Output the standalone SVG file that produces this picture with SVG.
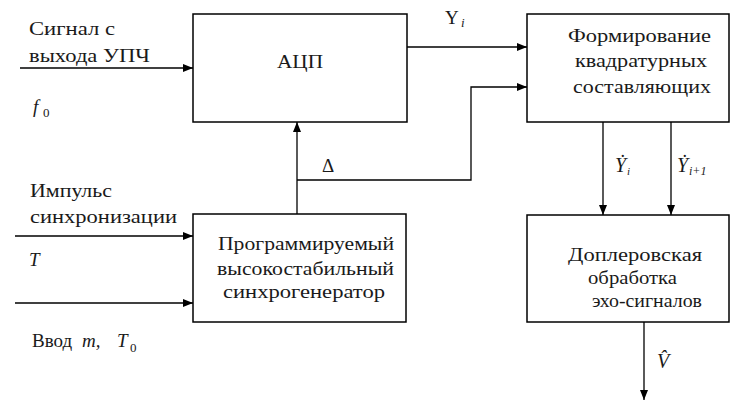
<svg xmlns="http://www.w3.org/2000/svg" width="731" height="400" viewBox="0 0 731 400">
<style>
.box{fill:#fff;stroke:#000;stroke-width:1.5}
.ln{fill:none;stroke:#000;stroke-width:1.3}
.t{font-family:'Times New Roman',Tinos,'Noto Serif','DejaVu Serif','Liberation Serif',serif;font-size:19px;fill:#1a1a1a}
.it{font-style:italic}
.sub{font-size:13px}
</style>
<defs>
<marker id="ar" viewBox="0 0 10 8" refX="10" refY="4" markerWidth="10" markerHeight="8" markerUnits="userSpaceOnUse" orient="auto">
<path d="M0,0 L10,4 L0,8 Z" fill="#000"/>
</marker>
</defs>
<rect width="731" height="400" fill="#fff"/>
<g id="connectors">
<line class="ln" x1="20" y1="68" x2="193" y2="68" marker-end="url(#ar)"/>
<line class="ln" x1="407" y1="47" x2="527" y2="47" marker-end="url(#ar)"/>
<line class="ln" x1="297" y1="214" x2="297" y2="122" marker-end="url(#ar)"/>
<polyline class="ln" points="297,180 471,180 471,87 527,87" marker-end="url(#ar)"/>
<line class="ln" x1="15" y1="236" x2="193" y2="236" marker-end="url(#ar)"/>
<line class="ln" x1="15" y1="303" x2="193" y2="303" marker-end="url(#ar)"/>
<line class="ln" x1="603" y1="122" x2="603" y2="215" marker-end="url(#ar)"/>
<line class="ln" x1="671" y1="122" x2="671" y2="215" marker-end="url(#ar)"/>
<line class="ln" x1="644" y1="322" x2="644" y2="400" marker-end="url(#ar)"/>
</g>
<g class="t">
<g id="adc">
<rect class="box" x="193" y="14" width="214" height="108"/>
<text x="277" y="68" textLength="46" lengthAdjust="spacingAndGlyphs">АЦП</text>
</g>
<g id="quad">
<rect class="box" x="527" y="14" width="202" height="108"/>
<text x="568" y="42" textLength="143" lengthAdjust="spacingAndGlyphs">Формирование</text>
<text x="575" y="67" textLength="132" lengthAdjust="spacingAndGlyphs">квадратурных</text>
<text x="573" y="93" textLength="138" lengthAdjust="spacingAndGlyphs">составляющих</text>
</g>
<g id="gen">
<rect class="box" x="193" y="214" width="213" height="108"/>
<text x="218" y="250" textLength="176" lengthAdjust="spacingAndGlyphs">Программируемый</text>
<text x="217" y="275" textLength="177" lengthAdjust="spacingAndGlyphs">высокостабильный</text>
<text x="223" y="298" textLength="162" lengthAdjust="spacingAndGlyphs">синхрогенератор</text>
</g>
<g id="doppler">
<rect class="box" x="527" y="215" width="202" height="107"/>
<text x="568" y="261" textLength="134" lengthAdjust="spacingAndGlyphs">Доплеровская</text>
<text x="588" y="284" textLength="89" lengthAdjust="spacingAndGlyphs">обработка</text>
<text x="592" y="307" textLength="110" lengthAdjust="spacingAndGlyphs">эхо-сигналов</text>
</g>
<g id="labels">
<text x="29" y="35" textLength="86" lengthAdjust="spacingAndGlyphs">Сигнал с</text>
<text x="29" y="62" textLength="121" lengthAdjust="spacingAndGlyphs">выхода УПЧ</text>
<text x="33" y="113" class="it">f</text><text x="43" y="117" class="sub">0</text>
<text x="445" y="24">Y</text><text x="461" y="27" class="it sub">i</text>
<text x="322" y="172">Δ</text>
<text x="30" y="197" textLength="82" lengthAdjust="spacingAndGlyphs">Импульс</text>
<text x="30" y="223" textLength="147" lengthAdjust="spacingAndGlyphs">синхронизации</text>
<text x="29" y="266" class="it">T</text>
<text x="32" y="347">Ввод</text>
<text x="82" y="347" class="it">m,</text>
<text x="117" y="347" class="it">T</text><text x="130" y="352" class="sub">0</text>
<text x="615" y="172" class="it" font-size="20">Ẏ</text><text x="627" y="175" class="it" font-size="11">i</text>
<text x="677" y="172" class="it" font-size="20">Ẏ</text><text x="689" y="175" class="it" font-size="12">i+1</text>
<text x="657" y="368" class="it" font-size="20">V̂</text>
</g>
</g>
</svg>
